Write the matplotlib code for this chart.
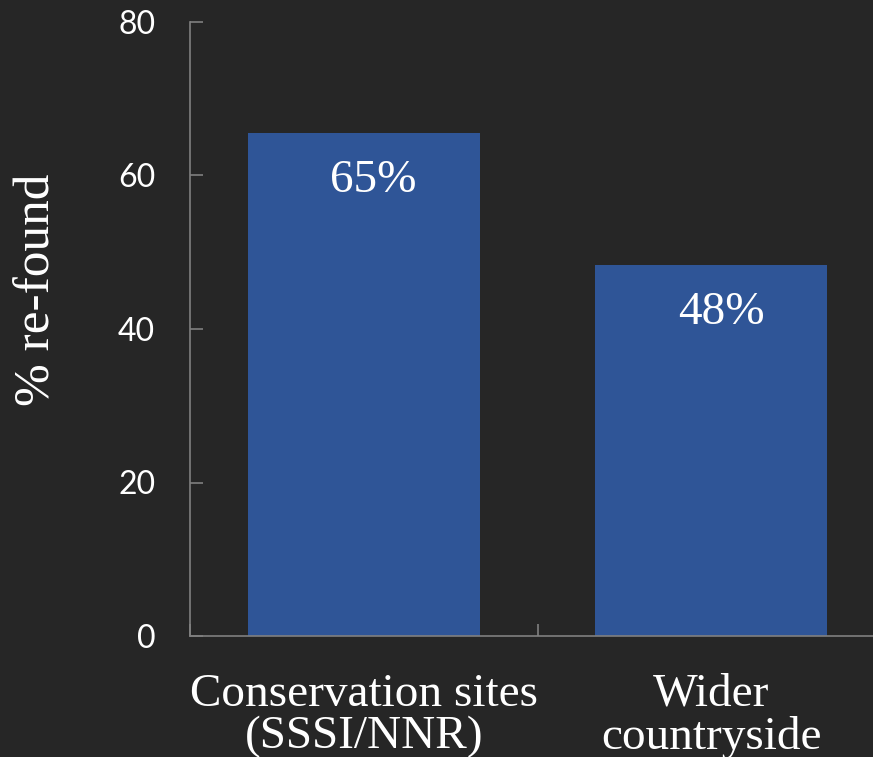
import matplotlib
matplotlib.use("Agg")
import matplotlib.pyplot as plt

categories = ["Conservation sites\n(SSSI/NNR)", "Wider\ncountryside"]
values = [65.5, 48.3]
labels = ["65%", "48%"]
yticks = [0, 20, 40, 60, 80]

BG = "#262626"
BAR = "#2F5597"
AX = "#808080"
serif = ["Liberation Serif", "DejaVu Serif"]
sans = ["Lato", "DejaVu Sans"]

fig = plt.figure(figsize=(8.73, 7.57), dpi=100, facecolor=BG)
ax = fig.add_axes([190/873, 1-636/757, (885-190)/873, (636-22)/757])
ax.set_facecolor(BG)

x = list(range(len(categories)))
bars = ax.bar(x, values, width=0.667, color=BAR, zorder=2)
ax.set_xlim(-0.5, len(categories)-0.5)
ax.set_ylim(0, 80)

for b, lab in zip(bars, labels):
    ax.annotate(lab, (b.get_x()+b.get_width()/2, b.get_height()-3.4),
                xytext=(7, 0), textcoords="offset points", ha="center", va="top",
                color="white", fontsize=34, family=serif)

for s in ["top", "right"]:
    ax.spines[s].set_visible(False)
for s in ["left", "bottom"]:
    ax.spines[s].set_color(AX)
    ax.spines[s].set_linewidth(1.2)

ax.set_yticks(yticks)
ax.set_yticklabels([str(v) for v in yticks], family=sans, fontsize=23, color="white")
ax.tick_params(axis="y", direction="in", length=9, color=AX, width=1.2, pad=25)

ax.set_xticks([-0.5, 0.5, 1.5], minor=True)
ax.set_xticks(x)
ax.set_xticklabels(categories, family=serif, fontsize=34, color="white", linespacing=1.0)
ax.tick_params(axis="x", which="major", length=0, pad=27)
ax.tick_params(axis="x", which="minor", direction="in", length=9, color=AX, width=1.2)

ax.set_ylabel("% re-found", family=serif, fontsize=37, color="white")
ax.yaxis.set_label_coords(-0.186, 0.5635)

fig.savefig("out.png", dpi=100, facecolor=BG)
